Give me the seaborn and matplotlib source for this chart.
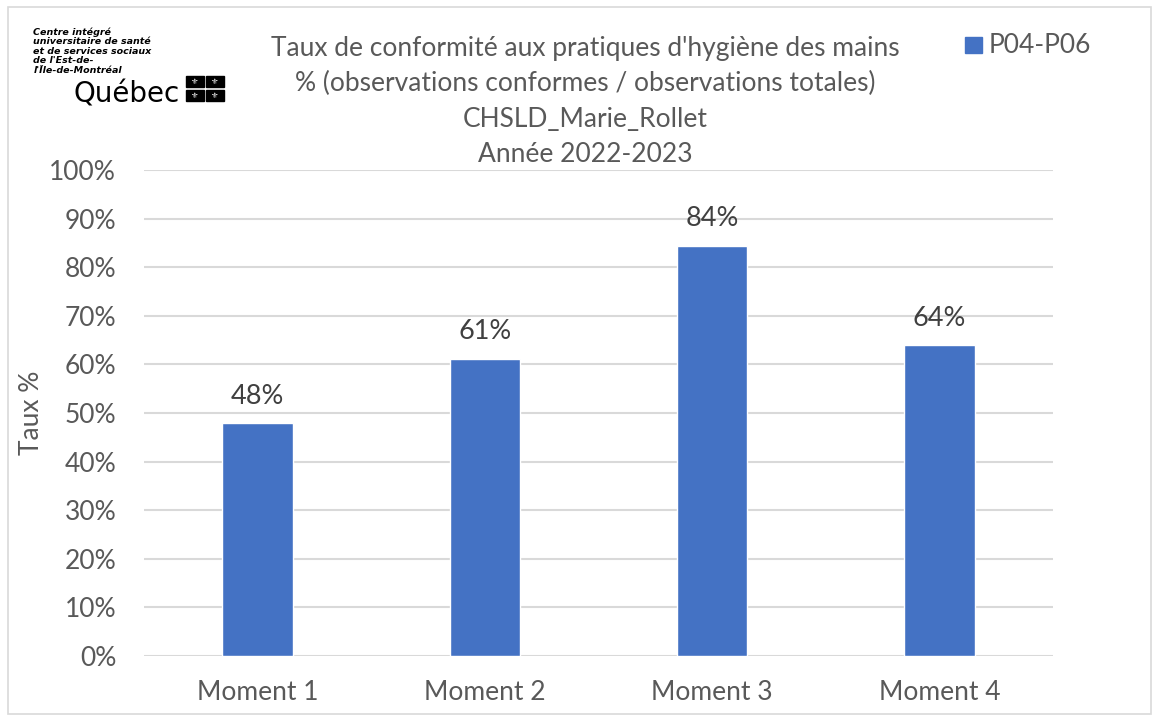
import matplotlib
matplotlib.use("Agg")
import matplotlib.pyplot as plt
import matplotlib.patches as mpatches
import pandas as pd
import seaborn as sns

# data
moments = ["Moment 1", "Moment 2", "Moment 3", "Moment 4"]
taux = [47.9, 61.2, 84.4, 63.9]
serie = "P04-P06"
titre = ("Taux de conformité aux pratiques d'hygiène des mains\n"
         "% (observations conformes / observations totales)\n"
         "CHSLD_Marie_Rollet\n"
         "Année 2022-2023")

df = pd.DataFrame({"moment": moments, "taux": taux, "serie": serie})

sns.set_theme(style="white")
plt.rcParams['font.family'] = ['Lato', 'DejaVu Sans']
grey = "#595959"
blue = "#4472C4"

fig = plt.figure(figsize=(11.54, 7.17), dpi=100)
ax = fig.add_axes([0.1248, 0.0851, 0.7877, 0.6778])

sns.barplot(data=df, x="moment", y="taux", color=blue, width=0.31,
            saturation=1, ax=ax, zorder=3)

ax.set_ylim(0, 100)
ax.set_yticks(range(0, 101, 10))
ax.set_yticklabels([f"{v}%" for v in range(0, 101, 10)], fontsize=19, color=grey)
ax.tick_params(axis='x', labelsize=19, labelcolor=grey, length=0, pad=17)
ax.tick_params(axis='y', length=0, pad=20)
ax.set_xlabel("")
ax.set_ylabel("Taux %", fontsize=19, color=grey, labelpad=4)
ax.grid(True, axis='y', color="#d9d9d9", linewidth=1.5, zorder=0)
for s in ax.spines.values():
    s.set_visible(False)

for i, v in enumerate(taux):
    ax.text(i, v + 3, f"{round(v)}%", ha='center', va='bottom', fontsize=19.5, color="#404040")

# title
fig.text(0.507, 0.950, titre, ha='center', va='top', fontsize=19, color=grey,
         linespacing=1.52)

# legend
fig.patches.append(mpatches.Rectangle((0.8365, 0.926), 0.0145, 0.0225,
                                      transform=fig.transFigure, color=blue))
fig.text(0.857, 0.936, serie, ha='left', va='center', fontsize=19, color=grey)

# logo
fig.text(0.029, 0.962, "Centre intégré\nuniversitaire de santé\net de services sociaux\nde l'Est-de-\nl'Île-de-Montréal",
         ha='left', va='top', fontsize=6.8, fontweight='bold', fontstyle='italic',
         color='black', linespacing=1.08, family=['DejaVu Sans'])
fig.text(0.064, 0.857, "Québec", ha='left', va='baseline', fontsize=20, color='black',
         family=['DejaVu Sans'])
for dx, dy in [(0, 0), (0.0175, 0), (0, -0.0195), (0.0175, -0.0195)]:
    x0, y0 = 0.161 + dx, 0.878 + dy
    fig.patches.append(mpatches.Rectangle((x0, y0), 0.0155, 0.0155,
                                          transform=fig.transFigure, color='black'))
    fig.text(x0 + 0.00775, y0 + 0.0078, "\u269c", ha='center', va='center',
             fontsize=6, color='white', family=['DejaVu Sans'])

# outer border
fig.patches.append(mpatches.Rectangle((0.007, 0.004), 0.99, 0.986, transform=fig.transFigure,
                                      fill=False, edgecolor="#d9d9d9", linewidth=1.2))

fig.savefig("out.png", dpi=100)
